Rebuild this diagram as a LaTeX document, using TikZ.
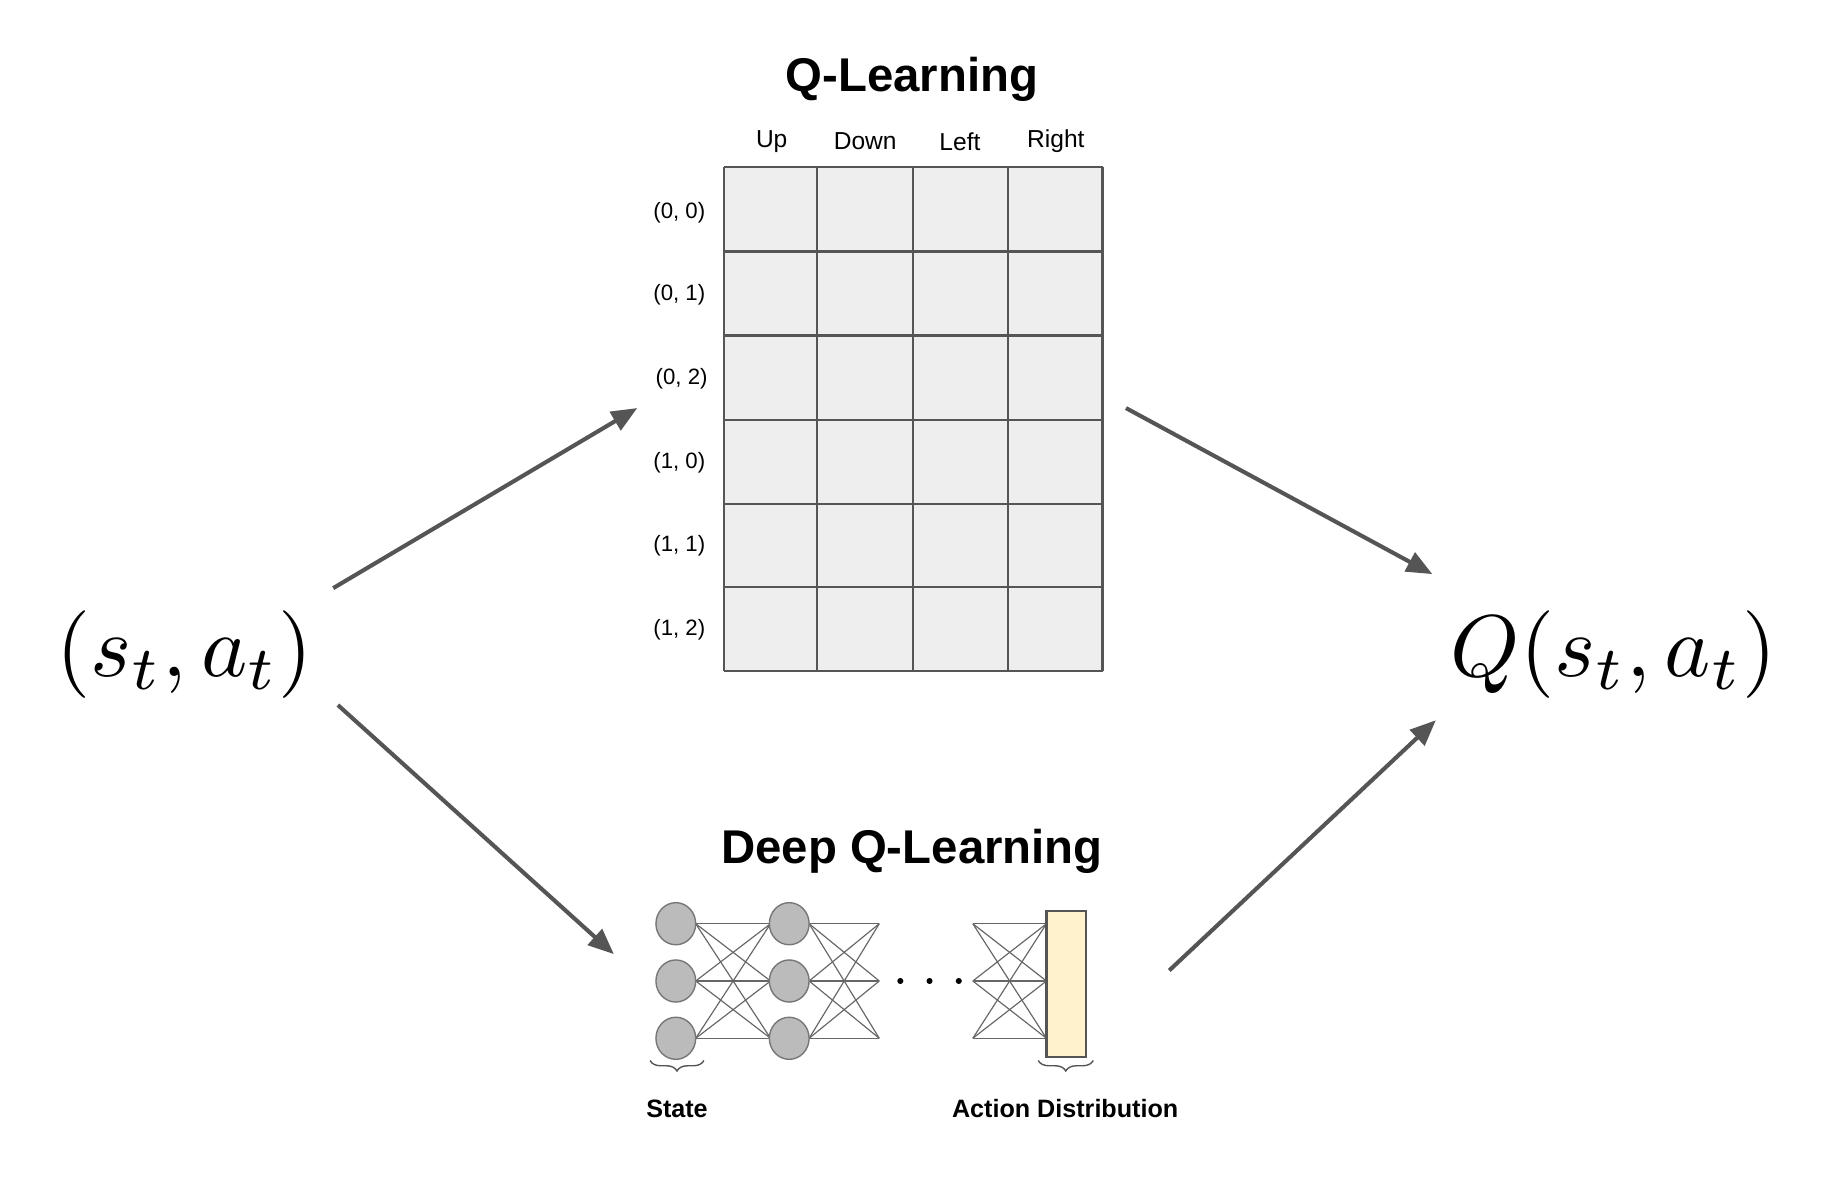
\documentclass[tikz,border=0pt]{standalone}
\usepackage{fontspec}
\usepackage{graphicx}
\setsansfont{Liberation Sans}
\usetikzlibrary{arrows.meta,decorations.pathreplacing,shapes.geometric}
\definecolor{ln}{HTML}{555555}
\definecolor{cellfill}{HTML}{EEEEEE}
\definecolor{neur}{HTML}{BBBBBB}
\definecolor{outfill}{HTML}{FFF2CC}
\begin{document}
\begin{tikzpicture}[x=1pt,y=-1pt,
  arr/.style={draw=ln,line width=3.5pt,-{Triangle[length=22pt,width=18pt]}},
  hdr/.style={font=\sffamily\fontsize{21}{24}\selectfont},
  rowlab/.style={font=\sffamily\fontsize{19}{22}\selectfont},
  ttl/.style={font=\sffamily\bfseries\fontsize{40.5}{44}\selectfont},
  sub/.style={font=\sffamily\bfseries\fontsize{21.5}{24}\selectfont},
  neuron/.style={ellipse,draw=ln!80,fill=neur,line width=1.2pt,minimum width=34pt,minimum height=36pt,inner sep=0pt},
  wire/.style={draw=ln!90,line width=1pt},
  brc/.style={draw=ln,line width=1.2pt,decorate,decoration={brace,mirror,amplitude=9pt}}]
\useasboundingbox (0,0) rectangle (1560,1020);
% title
\node[ttl] (t1) at (780,68) {Q-Learning};
\foreach \n/\x in {Up/660,Down/740,Left/821,Right/903}{\node[hdr] (h\n) at (\x,121) {\n};}
% grid
\fill[cellfill] (619,143) rectangle (943,574);
\foreach \x in {619,699,781,862,943}{\draw[ln,line width=2pt] (\x,143) -- (\x,574);}
\foreach \y in {143,215,287,359,431,502,574}{\draw[ln,line width=2pt] (619,\y) -- (943,\y);}
\node[rowlab] (r1) at (581,182) {(0, 0)};
\node[rowlab] (r2) at (581,252) {(0, 1)};
\node[rowlab] (r3) at (583,324) {(0, 2)};
\node[rowlab] (r4) at (581,396) {(1, 0)};
\node[rowlab] (r5) at (581,467) {(1, 1)};
\node[rowlab] (r6) at (581,539) {(1, 2)};
% math
\node (in) at (158,560) {\scalebox{7.5}{$(s_t,a_t)$}};
\node (out) at (1380,560) {\scalebox{7.5}{$Q(s_t,a_t)$}};
\coordinate (a1s) at (285,503); \coordinate (a1e) at (545,349);
\coordinate (a2s) at (963,349); \coordinate (a2e) at (1225,491);
\coordinate (a3s) at (289,603); \coordinate (a3e) at (525,816);
\coordinate (a4s) at (1000,830); \coordinate (a4e) at (1228,616);
\draw[arr] (a1s) -- (a1e);
\draw[arr] (a2s) -- (a2e);
\draw[arr] (a3s) -- (a3e);
\draw[arr] (a4s) -- (a4e);
% deep
\node[ttl] (t2) at (780,728) {Deep Q-Learning};
\foreach \i/\y in {1/790,2/839,3/888}{
  \coordinate (q\i) at (832,\y);
  \coordinate (o\i) at (895,\y);}
\foreach \i/\y in {1/790,2/839,3/888}{\foreach \j/\yy in {1/790,2/839,3/888}{
  \draw[wire] (595,\y) -- (659,\yy);
  \draw[wire] (692,\y) -- (752,\yy);
  \draw[wire] (q\i) -- (o\j);}}
\foreach \i/\y in {1/790,2/839,3/888}{
  \node[neuron] (n1\i) at (578,\y) {};
  \node[neuron] (n2\i) at (675,\y) {};}
\foreach \x in {770,795,820}{\fill (\x,839) circle (2.6pt);}
\node[draw=ln,fill=outfill,line width=2pt,minimum width=34pt,minimum height=125pt,inner sep=0pt] (box) at (912,841.5) {};
\draw[brc] (556,907) -- (602,907);
\draw[brc] (888,907) -- (935,907);
\node[sub] (st) at (579,948) {State};
\node[sub] (ad) at (911,948) {Action Distribution};
\end{tikzpicture}
\end{document}
